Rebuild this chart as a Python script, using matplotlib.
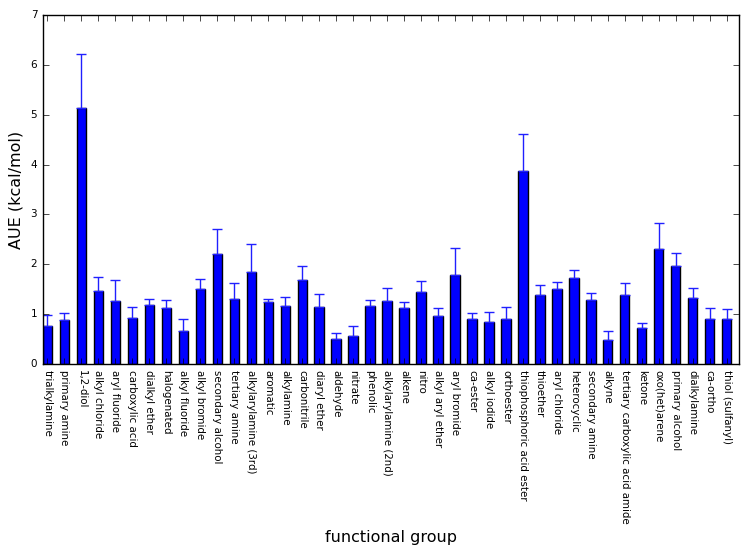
import matplotlib
matplotlib.use('Agg')
import matplotlib.pyplot as plt
import numpy as np

# functional groups along x
groups = ['trialkylamine', 'primary amine', '1,2-diol', 'alkyl chloride',
          'aryl fluoride', 'carboxylic acid', 'dialkyl ether', 'halogenated',
          'alkyl fluoride', 'alkyl bromide', 'secondary alcohol',
          'tertiary amine', 'alkylarylamine (3rd)', 'aromatic', 'alkylamine',
          'carbonitrile', 'diaryl ether', 'aldehyde', 'nitrate', 'phenolic',
          'alkylarylamine (2nd)', 'alkene', 'nitro', 'alkyl aryl ether',
          'aryl bromide', 'ca-ester', 'alkyl iodide', 'orthoester',
          'thiophosphoric acid ester', 'thioether', 'aryl chloride',
          'heterocyclic', 'secondary amine', 'alkyne',
          'tertiary carboxylic acid amide', 'ketone', 'oxo(het)arene',
          'primary alcohol', 'dialkylamine', 'ca-ortho', 'thiol (sulfanyl)']

# mean unsigned error per group
aue = [0.76, 0.89, 5.13, 1.47, 1.27, 0.93, 1.19, 1.13, 0.66, 1.51, 2.20,
       1.31, 1.84, 1.24, 1.17, 1.68, 1.15, 0.50, 0.56, 1.17, 1.27, 1.13,
       1.45, 0.96, 1.79, 0.90, 0.85, 0.90, 3.88, 1.39, 1.51, 1.72, 1.28,
       0.48, 1.39, 0.72, 2.30, 1.96, 1.32, 0.91, 0.90]

# upper error bar top
err_top = [0.99, 1.03, 6.22, 1.74, 1.68, 1.15, 1.31, 1.28, 0.91, 1.70, 2.70,
           1.63, 2.41, 1.31, 1.35, 1.96, 1.41, 0.62, 0.76, 1.29, 1.53, 1.25,
           1.66, 1.13, 2.33, 1.02, 1.05, 1.14, 4.62, 1.59, 1.65, 1.89, 1.43,
           0.66, 1.63, 0.83, 2.82, 2.23, 1.53, 1.12, 1.10]

plt.style.use('classic')
plt.rcParams['font.family'] = 'DejaVu Sans'

aue = np.array(aue)
err = np.array(err_top) - aue
x = np.arange(len(groups))
width = 0.55

fig = plt.figure(figsize=(7.51, 5.6), dpi=100, facecolor='white')
ax = fig.add_axes([0.057, 0.35, 0.927, 0.623])
ax.bar(x, aue, width, align='edge', color='b', edgecolor='k', linewidth=1,
       yerr=[np.zeros_like(err), err], ecolor='#2020ff', capsize=3.5,
       error_kw={'elinewidth': 1, 'capthick': 1})

ax.set_xlim(0, len(groups))
ax.set_ylim(0, 7)
ax.set_xticks(x + width / 2)
ax.set_xticklabels(groups, rotation=270, fontsize=7.4)
ax.tick_params(axis='y', labelsize=7.5)
ax.set_xlabel('functional group', fontsize=11.5)
ax.set_ylabel('AUE (kcal/mol)', fontsize=11.5)

fig.savefig('out.png', dpi=100, facecolor='white')
